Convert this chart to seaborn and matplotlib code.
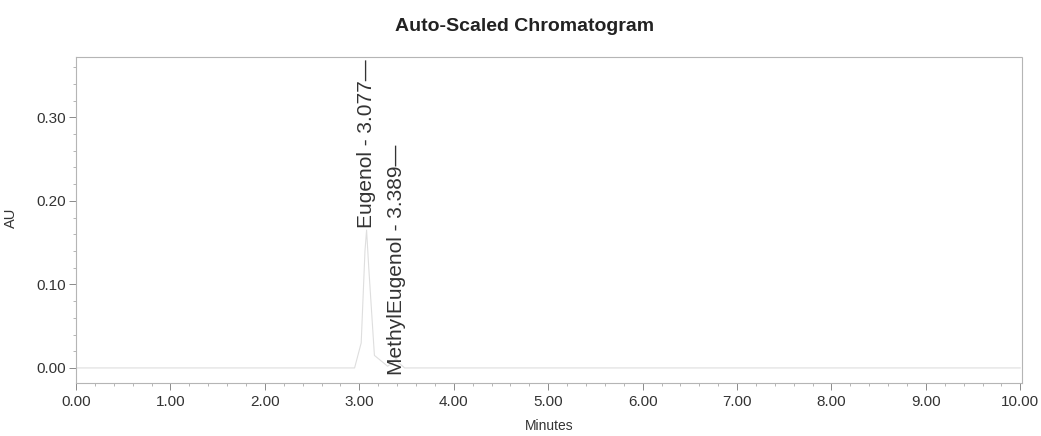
import matplotlib
matplotlib.use("Agg")
import matplotlib.pyplot as plt
from matplotlib.ticker import MultipleLocator, FormatStrFormatter
import seaborn as sns
import pandas as pd

# ---- data ----
time_min = [0.00, 2.95, 3.02, 3.06, 3.077, 3.10, 3.16, 3.30, 3.37, 3.389, 3.41, 3.48, 10.00]
au_values = [0.000, 0.000, 0.030, 0.140, 0.165, 0.120, 0.015, 0.002, 0.008, 0.012, 0.007, 0.000, 0.000]
peak_names = ["Eugenol", "MethylEugenol"]
peak_times = [3.077, 3.389]
peak_label_y = [0.168, -0.009]
x_ticks = [0.0, 1.0, 2.0, 3.0, 4.0, 5.0, 6.0, 7.0, 8.0, 9.0, 10.0]
y_ticks = [0.00, 0.10, 0.20, 0.30]

sns.set_style("white")
plt.rcParams["font.family"] = ["Liberation Sans", "DejaVu Sans"]

fig = plt.figure(figsize=(10.41, 4.36), dpi=100)
ax = fig.add_axes([0.073, 0.1216, 0.909, 0.7474])

df = pd.DataFrame({"Minutes": time_min, "AU": au_values})
sns.lineplot(data=df, x="Minutes", y="AU", ax=ax, color="#dedede", linewidth=0.8)

ax.set_xlim(0.0, 10.02)
ax.set_ylim(-0.018, 0.372)
ax.set_xticks(x_ticks)
ax.set_yticks(y_ticks)
ax.xaxis.set_major_formatter(FormatStrFormatter("%.2f"))
ax.yaxis.set_major_formatter(FormatStrFormatter("%.2f"))
ax.xaxis.set_minor_locator(MultipleLocator(0.2))
ax.yaxis.set_minor_locator(MultipleLocator(0.02))
ax.tick_params(axis="both", which="both", bottom=True, left=True, top=False, right=False)
ax.tick_params(axis="both", which="major", direction="out", length=5, width=0.7,
               color="#8a8a8a", labelsize=11, labelcolor="#333333", pad=2)
ax.tick_params(axis="both", which="minor", direction="out", length=2.5, width=0.6,
               color="#aaaaaa")
ax.tick_params(axis="x", which="major", pad=4)

for side, sp in ax.spines.items():
    sp.set_visible(True)
    sp.set_color("#b5b5b5")
    sp.set_linewidth(0.8)
    if side in ("top", "right"):
        sp.set_linestyle((0, (1, 1)))

ax.set_xlabel("Minutes", fontsize=10, color="#333333", labelpad=7)
ax.set_ylabel("AU", fontsize=10.5, color="#333333")
ax.yaxis.set_label_coords(-0.061, 0.506)
ax.set_title("Auto-Scaled Chromatogram", fontsize=14, fontweight="bold",
             color="#222222", pad=19, x=0.474)

for name, t, ly in zip(peak_names, peak_times, peak_label_y):
    ax.text(t, ly, f"{name} - {t:.3f}\u2014", rotation=90, ha="center", va="bottom",
            fontsize=15, color="#333333", clip_on=False)

fig.savefig("out.png", dpi=100)
